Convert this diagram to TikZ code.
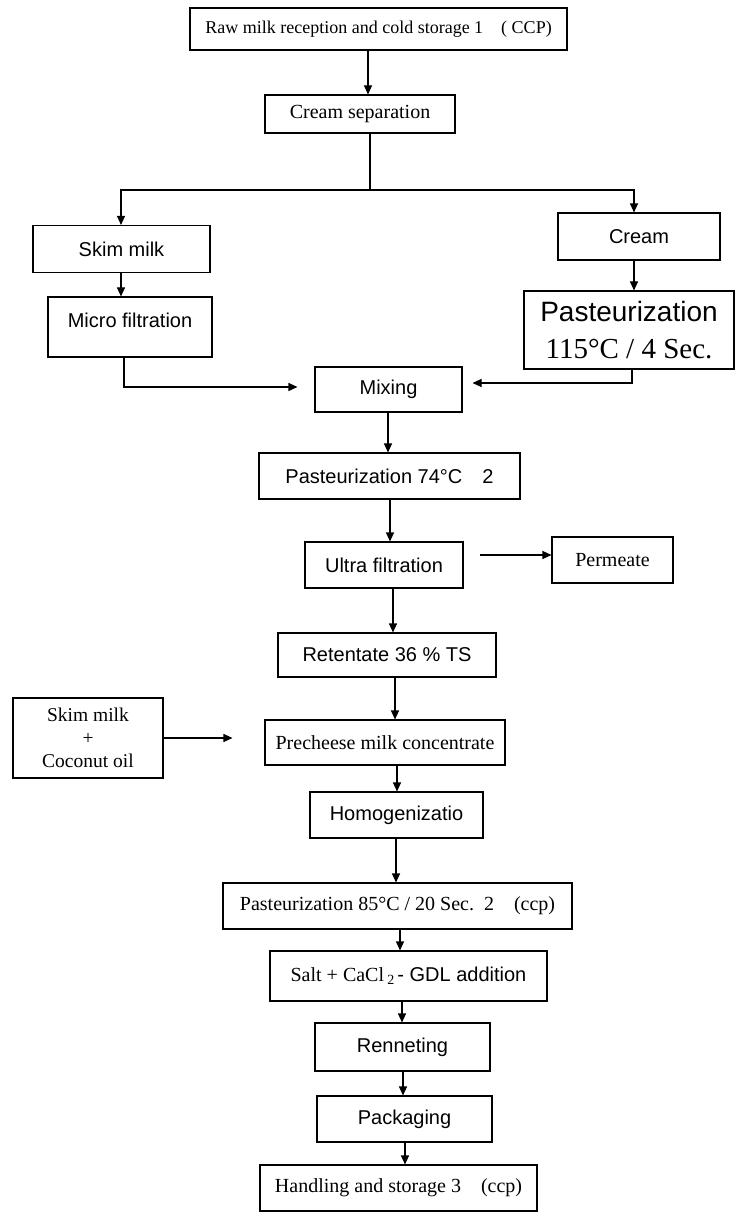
\documentclass[tikz,border=0pt]{standalone}
\usepackage{fontspec}
\setmainfont{Liberation Serif}
\newfontfamily\sansf{Liberation Sans}
\usetikzlibrary{arrows.meta}
\begin{document}
\begin{tikzpicture}[x=1pt,y=-1pt,
 box/.style={draw, line width=1.1pt, inner sep=0pt, align=center},
 arr/.style={line width=1.1pt, -{Triangle[length=9pt,width=8pt]}},
 ln/.style={line width=1.1pt},
 sf/.style={font=\sansf\fontsize{20}{24}\selectfont},
 rm/.style={font=\fontsize{20}{24}\selectfont}]
\useasboundingbox (0,0) rectangle (737,1214);
% boxes
\node[box,font=\fontsize{18}{22}\selectfont,minimum width=377pt,minimum height=42pt] (raw) at (378.5,29) {Raw milk reception and cold storage 1\quad( CCP)};
\node[box,rm,minimum width=190pt,minimum height=38pt] (cs) at (360,114) {Cream separation};
\node[box,sf,minimum width=177pt,minimum height=47pt] (skim) at (121.5,249) {Skim milk};
\node[box,sf,minimum width=162pt,minimum height=47pt] (cream) at (639,236.5) {Cream};
\node[box,minimum width=164pt,minimum height=60pt,
 label={[sf,anchor=center,yshift=7pt]center:Micro filtration}] (micro) at (130,327) {};
\node[box,minimum width=210pt,minimum height=78pt,font=\fontsize{28}{37}\selectfont] (p115) at (629,330)
 {{\sansf Pasteurization}\\{\fontsize{29}{37}\selectfont 115°C / 4 Sec.}};
\node[box,sf,minimum width=147pt,minimum height=45pt] (mix) at (388.5,389.5) {Mixing};
\node[box,sf,minimum width=261pt,minimum height=46pt] (p74) at (389.5,476) {Pasteurization 74°C\quad 2};
\node[box,sf,minimum width=158pt,minimum height=46pt] (uf) at (384,565) {Ultra filtration};
\node[box,rm,minimum width=121pt,minimum height=46pt] (perm) at (612.5,560) {Permeate};
\node[box,sf,minimum width=218pt,minimum height=44pt] (ret) at (387,655) {Retentate 36 \% TS};
\node[box,rm,minimum width=240pt,minimum height=45pt] (pre) at (385,742.5) {Precheese milk concentrate};
\node[box,font=\fontsize{19.5}{23}\selectfont,minimum width=150pt,minimum height=80pt] (sc) at (88,738) {Skim milk\\+\\Coconut oil};
\node[box,sf,minimum width=173pt,minimum height=46pt] (hom) at (396.5,815) {Homogenizatio};
\node[box,rm,minimum width=349pt,minimum height=46pt] (p85) at (397.5,906) {Pasteurization 85°C / 20 Sec.\enspace 2\quad (ccp)};
\node[box,minimum width=277pt,minimum height=50pt] (salt) at (408.5,976)
 {{\fontsize{20}{24}\selectfont Salt + CaCl\,\textsubscript{2}} {\sansf\fontsize{20}{24}\selectfont - GDL addition}};
\node[box,sf,minimum width=175pt,minimum height=48pt] (ren) at (402.5,1047) {Renneting};
\node[box,sf,minimum width=175pt,minimum height=46pt] (pack) at (404.5,1119) {Packaging};
\node[box,rm,minimum width=277pt,minimum height=46pt] (hand) at (398.5,1188) {Handling and storage 3\quad (ccp)};
% lanes
\coordinate (l1) at (368,0);
\coordinate (j) at (370,190);
\coordinate (lskim) at (121,0);
\coordinate (lcream) at (634,0);
\coordinate (lmicro) at (124,387);
\coordinate (lp115) at (632,383);
\coordinate (l74) at (388,0);
\coordinate (luf) at (390,0);
\coordinate (lret) at (393,0);
\coordinate (lpre) at (395,0);
\coordinate (lhom) at (397,0);
\coordinate (l85) at (396,0);
\coordinate (lsalt) at (400,0);
\coordinate (lren) at (402,0);
\coordinate (lpack) at (403,0);
\coordinate (lhand) at (405,0);
\coordinate (lperm) at (480,555);
% connectors
\draw[arr] (raw.south -| l1) -- (cs.north -| l1);
\draw[ln] (cs.south -| j) -- (j);
\draw[arr] (j) -| (skim.north -| lskim);
\draw[arr] (j) -| (cream.north -| lcream);
\draw[arr] (skim.south -| lskim) -- (micro.north -| lskim);
\draw[arr] (cream.south -| lcream) -- (p115.north -| lcream);
\draw[arr] (micro.south -| lmicro) -- (lmicro) -- ([xshift=-17pt]mix.west |- lmicro);
\draw[arr] (p115.south -| lp115) -- (lp115) -- ([xshift=10pt]mix.east |- lp115);
\draw[arr] (mix.south -| l74) -- (p74.north -| l74);
\draw[arr] (p74.south -| luf) -- (uf.north -| luf);
\draw[arr] (lperm) -- (perm.west |- lperm);
\draw[arr] (uf.south -| lret) -- (ret.north -| lret);
\draw[arr] (ret.south -| lpre) -- (pre.north -| lpre);
\draw[arr] (sc.east) -- ([xshift=-32pt]pre.west |- sc.east);
\draw[arr] (pre.south -| lhom) -- (hom.north -| lhom);
\draw[arr] (hom.south -| l85) -- (p85.north -| l85);
\draw[arr] (p85.south -| lsalt) -- (salt.north -| lsalt);
\draw[arr] (salt.south -| lren) -- (ren.north -| lren);
\draw[arr] (ren.south -| lpack) -- (pack.north -| lpack);
\draw[arr] (pack.south -| lhand) -- (hand.north -| lhand);
\end{tikzpicture}
\end{document}
